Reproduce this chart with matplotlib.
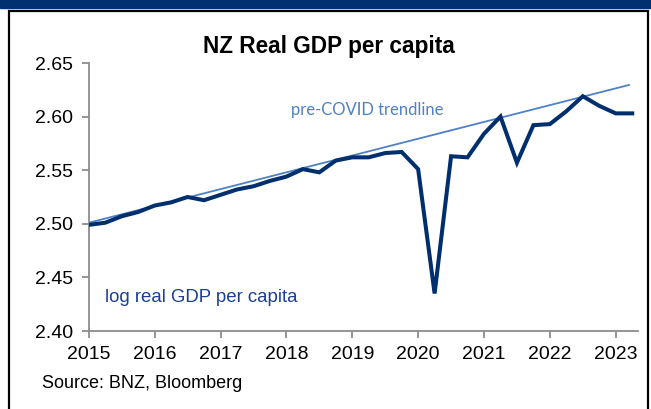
import numpy as np
import matplotlib
matplotlib.use('Agg')
import matplotlib.pyplot as plt
from matplotlib.patches import Rectangle

# Quarterly log real GDP per capita, 2015Q1 .. 2023Q2
quarters = 2015 + np.arange(34) / 4
log_gdp = [2.499, 2.501, 2.507, 2.511, 2.517, 2.520, 2.525, 2.522,
           2.527, 2.532, 2.535, 2.540, 2.544, 2.551, 2.548, 2.559,
           2.562, 2.562, 2.566, 2.567, 2.551, 2.435, 2.563, 2.562,
           2.584, 2.600, 2.557, 2.592, 2.593, 2.605, 2.619, 2.610,
           2.603, 2.603]

# pre-COVID trendline end points
trend_x = [2015.0, 2023.2]
trend_y = [2.501, 2.6295]

year_ticks = [2015, 2016, 2017, 2018, 2019, 2020, 2021, 2022, 2023]
value_ticks = [2.40, 2.45, 2.50, 2.55, 2.60, 2.65]

plt.rcParams['font.family'] = ['Liberation Sans', 'DejaVu Sans']

fig = plt.figure(figsize=(6.51, 4.09), dpi=100)

# navy band at top and the black frame
fig.patches.append(Rectangle((0, 1 - 8 / 409), 1, 8 / 409, transform=fig.transFigure,
                             color='#003070', zorder=0))
fig.patches.append(Rectangle((9 / 651, -0.05), 639 / 651, 0.05 + 1 - 11 / 409,
                             transform=fig.transFigure, fill=False,
                             edgecolor='black', linewidth=1.6, zorder=1))

ax = fig.add_axes([88.75 / 651, 78 / 409, (637.5 - 88.75) / 651, (331 - 63) / 409])

ax.plot(trend_x, trend_y, color='#4f81c4', linewidth=1.3, zorder=2)
ax.plot(quarters, log_gdp, color='#002f6e', linewidth=2.9, zorder=3,
        solid_joinstyle='miter')

ax.set_xlim(2015, 2023.33)
ax.set_ylim(2.40, 2.65)
ax.set_xticks(year_ticks)
ax.set_yticks(value_ticks)
ax.set_yticklabels([f'{v:.2f}' for v in value_ticks])

for side in ['top', 'right']:
    ax.spines[side].set_visible(False)
for side in ['left', 'bottom']:
    ax.spines[side].set_color('#8c8c8c')
    ax.spines[side].set_linewidth(1.3)
ax.tick_params(axis='both', colors='#8c8c8c', labelcolor='black', labelsize=14,
               length=5, width=1.3, pad=6)

ax.text(2018.07, 2.606, 'pre-COVID trendline', color='#4f81c4', fontsize=12,
        family=['Lato', 'DejaVu Sans'], ha='left', va='center')
ax.text(2015.25, 2.431, 'log real GDP per capita', color='#1c3f94', fontsize=13.4,
        ha='left', va='center')

fig.text(329 / 651, 1 - 46 / 409, 'NZ Real GDP per capita', fontsize=16.3,
         fontweight='bold', ha='center', va='center')
fig.text(42 / 651, 1 - 384 / 409, 'Source: BNZ, Bloomberg', fontsize=13,
         ha='left', va='center')

fig.savefig('out.png', dpi=100)
plt.close(fig)
